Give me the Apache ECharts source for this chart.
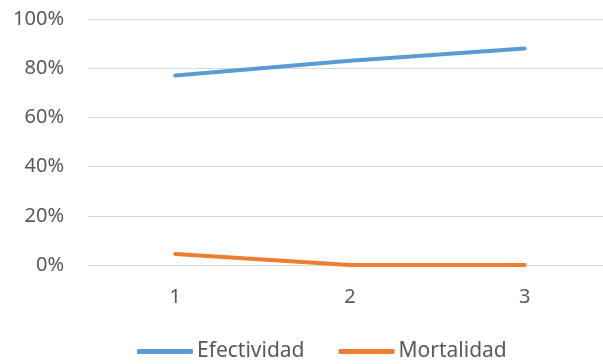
<!DOCTYPE html>
<html>
<head>
<meta charset="utf-8">
<script src="https://cdn.jsdelivr.net/npm/echarts@6/dist/echarts.min.js"></script>
<style>
  html, body { margin: 0; padding: 0; background: #fff; width: 603px; height: 364px; overflow: hidden; }
  /* un poco mas ancho: el area de trazado sigue mas alla del borde derecho */
  #chart { width: 612px; height: 364px; }
</style>
</head>
<body>
<div id="chart"></div>
<script>
// datos
var categories = ['1', '2', '3'];
var efectividad = [0.77, 0.83, 0.88];
var mortalidad = [0.045, 0, 0];

var chart = echarts.init(document.getElementById('chart'));
var fontFam = '"Noto Sans", "Open Sans", sans-serif';

chart.setOption({
  animation: false,
  textStyle: { fontFamily: fontFam },
  grid: { left: 88, right: 0, top: 19, height: 246, containLabel: false },
  legend: {
    top: 341,
    left: 137,
    padding: 0,
    icon: 'roundRect',
    itemWidth: 56,
    itemHeight: 5,
    itemGap: 34,
    textStyle: { color: '#595959', fontSize: 21, fontFamily: fontFam, padding: [0, 0, 0, -1] },
    data: ['Efectividad', 'Mortalidad']
  },
  xAxis: {
    type: 'category',
    data: categories,
    boundaryGap: true,
    axisLine: { lineStyle: { color: '#D9D9D9', width: 1 } },
    axisTick: { show: false },
    axisLabel: { color: '#595959', fontSize: 20, margin: 22 }
  },
  yAxis: {
    type: 'value',
    min: 0,
    max: 1,
    interval: 0.2,
    axisLine: { show: false },
    axisTick: { show: false },
    splitLine: { lineStyle: { color: '#D9D9D9', width: 1 } },
    axisLabel: {
      color: '#595959',
      fontSize: 20,
      margin: 24,
      formatter: function (v) { return Math.round(v * 100) + '%'; }
    }
  },
  series: [
    {
      name: 'Efectividad',
      type: 'line',
      data: efectividad,
      symbol: 'none',
      itemStyle: { color: '#5B9BD5' },
      lineStyle: { color: '#5B9BD5', width: 4, cap: 'round' }
    },
    {
      name: 'Mortalidad',
      type: 'line',
      data: mortalidad,
      symbol: 'none',
      itemStyle: { color: '#ED7D31' },
      lineStyle: { color: '#ED7D31', width: 4, cap: 'round' }
    }
  ]
});
</script>
</body>
</html>
